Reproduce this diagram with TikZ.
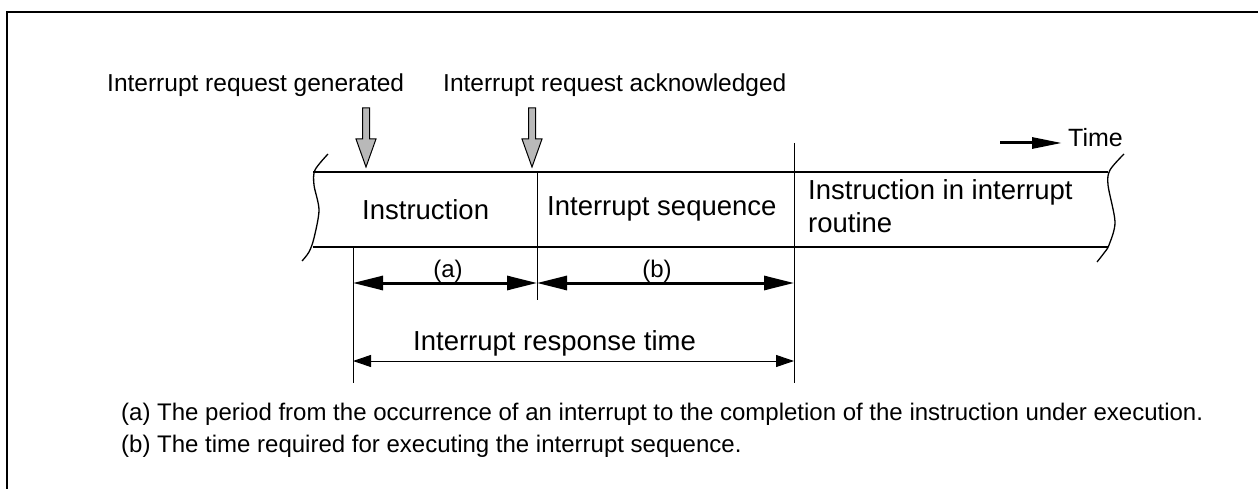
\documentclass[tikz,border=0pt]{standalone}
\usepackage{fontspec}
\setmainfont{Liberation Sans}
\usetikzlibrary{arrows.meta}
\tikzstyle{lbl}=[inner sep=0pt, anchor=base west]
\tikzstyle{small}=[font=\fontsize{24.5}{29}\selectfont]
\tikzstyle{big}=[font=\fontsize{27.5}{33}\selectfont]
\tikzstyle{note}=[font=\fontsize{24}{29}\selectfont]
\tikzstyle{band}=[line width=2pt]
\tikzstyle{tick}=[line width=1pt]
\tikzstyle{dim}=[line width=3pt, {Triangle[length=30pt,width=14pt]}-{Triangle[length=30pt,width=14pt]}]
\tikzstyle{span}=[line width=1pt, {Triangle[length=18pt,width=12pt]}-{Triangle[length=18pt,width=12pt]}]
\tikzstyle{req}=[draw, line width=1pt, fill=gray!55, line join=miter]
\newcommand{\req}[1]{\draw[req] (#1) -- ++(-10,-28) -- ++(6.5,0) -- ++(0,-31) -- ++(7,0) -- ++(0,31) -- ++(6.5,0) -- cycle;}

\begin{document}
\begin{tikzpicture}[x=1pt,y=-1pt]
\useasboundingbox (0,0) rectangle (1258,489);
%frame
\draw[line width=2.5pt] (7,489) -- (7,12) -- (1258,12);
%requests
\node[lbl, small] (gen) at (107,92) {Interrupt request generated};
\node[lbl, small] (ack) at (443,92) {Interrupt request acknowledged};
\coordinate (g) at (366,167);
\coordinate (k) at (532,167);
\req{g} \req{k}
%time
\coordinate (tm0) at (1000,143);
\coordinate (tm1) at (1062,143);
\node[lbl, font=\fontsize{25}{30}\selectfont] (time) at (1068,147) {Time};
\draw[line width=3pt, -{Triangle[length=30pt,width=11pt]}] (tm0) -- (tm1);
%band
\foreach \y in {172,247}{\draw[band] (313,\y) -- (1108,\y);}
\draw[line width=1.3pt] plot[smooth] coordinates {(328,154) (315,170) (314,185) (319,210) (314,238) (309,252) (302,261)};
\draw[line width=1.3pt] plot[smooth] coordinates {(1124,154) (1110,170) (1108,185) (1115,222) (1109,245) (1104,253) (1097,262)};
\draw[tick] (537,172) -- (537,300);
\draw[tick] (794,143) -- (794,383);
\draw[tick] (353,247) -- (353,383);
\node[lbl, big] (ins) at (362,220) {Instruction};
\node[lbl, big] (seq) at (547,215) {Interrupt sequence};
\node[lbl, big, align=left] (rout) at (808,233) {Instruction in interrupt\\routine};
%dimensions
\coordinate (a0) at (353,283);
\coordinate (a1) at (537,283);
\coordinate (b1) at (794,283);
\coordinate (t0) at (353,361);
\coordinate (t1) at (794,361);
\draw[dim] (a0) -- (a1);
\draw[dim] (a1) -- (b1);
\draw[span] (t0) -- (t1);
\node[inner sep=0pt, anchor=base, note] (la) at (448,277) {(a)};
\node[inner sep=0pt, anchor=base, note] (lb) at (657,277) {(b)};
\node[lbl, big] (lt) at (413,350) {Interrupt response time};
%notes
\node[lbl, note] (na) at (121,420) {(a) The period from the occurrence of an interrupt to the completion of the instruction under execution.};
\node[lbl, note] (nb) at (121,452) {(b) The time required for executing the interrupt sequence.};
\end{tikzpicture}
\end{document}
